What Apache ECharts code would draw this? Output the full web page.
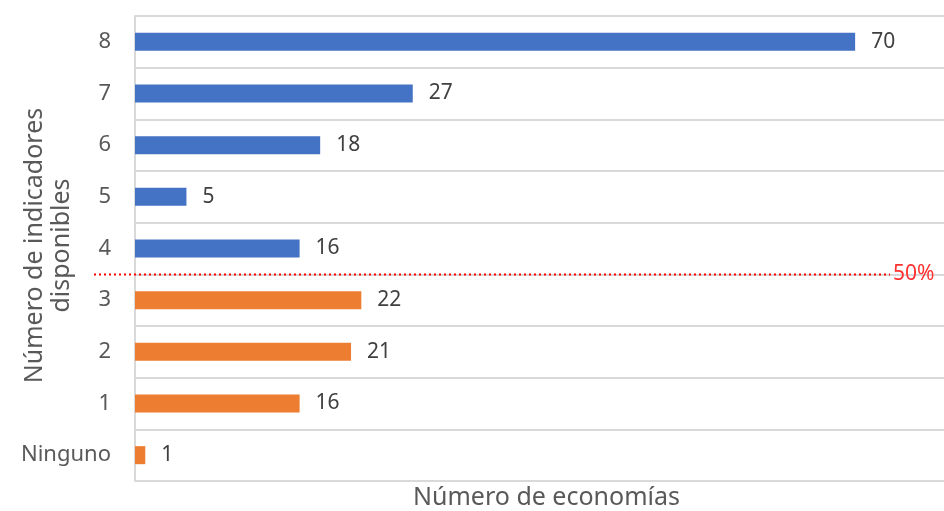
<!DOCTYPE html>
<html><head><meta charset="utf-8">
<script src="https://cdn.jsdelivr.net/npm/echarts@6/dist/echarts.min.js"></script>
<style>html,body{margin:0;padding:0;background:#fff}#c{width:944px;height:511px}</style>
</head><body><div id="c"></div>
<script>
const categories = ['Ninguno','1','2','3','4','5','6','7','8'];
const values = [1,16,21,22,16,5,18,27,70];
const colorGroups = ['o','o','o','o','b','b','b','b','b'];
const thresholdLabel = '50%';
const xTitle = 'Número de economías';
const yTitle = 'Número de indicadores\ndisponibles';
const xMax = 80;

const BLUE = '#4472C4', ORANGE = '#ED7D31';
const FONT = 'Noto Sans';
const chart = echarts.init(document.getElementById('c'));
chart.setOption({
  animation: false,
  textStyle: {fontFamily: FONT},
  grid: {left: 135, right: -14, top: 16, bottom: 30, containLabel: false, outerBoundsMode: 'none'},
  xAxis: {
    type: 'value', min: 0, max: xMax,
    axisLabel: {show: false}, axisLine: {show: false}, axisTick: {show: false},
    splitLine: {show: false}
  },
  yAxis: {
    type: 'category', data: categories,
    axisLine: {show: true, lineStyle: {color: '#d9d9d9', width: 2}},
    axisTick: {show: false},
    axisLabel: {fontSize: 22, color: '#595959', margin: 24, fontFamily: FONT},
    splitLine: {show: true, lineStyle: {color: '#d9d9d9', width: 2}}
  },
  series: [{
    type: 'bar', barWidth: 18,
    data: values.map((v, i) => ({value: v, itemStyle: {color: colorGroups[i] === 'o' ? ORANGE : BLUE}})),
    label: {show: true, position: 'right', distance: 16, fontSize: 21, color: '#404040', fontFamily: FONT}
  }]
});
const y3 = chart.convertToPixel({yAxisIndex: 0}, '3');
const y4 = chart.convertToPixel({yAxisIndex: 0}, '4');
const yb = Math.round((y3 + y4) / 2) + 0.5;
const xMid = (chart.convertToPixel({xAxisIndex: 0}, 0) + chart.convertToPixel({xAxisIndex: 0}, xMax)) / 2;
const yMid = (chart.convertToPixel({yAxisIndex: 0}, categories[0]) + chart.convertToPixel({yAxisIndex: 0}, categories[categories.length - 1])) / 2;
chart.setOption({
  graphic: [
    {type: 'line', shape: {x1: 94, y1: yb, x2: 890, y2: yb},
     style: {stroke: '#FF0000', lineWidth: 2, lineDash: [2, 3]}, z: 100},
    {type: 'text', x: 893, y: yb, style: {text: thresholdLabel, fill: '#FF3030', fontSize: 21,
     fontFamily: FONT, verticalAlign: 'middle'}, z: 100},
    {type: 'text', x: xMid, y: 498, style: {text: xTitle, fill: '#595959', fontSize: 25,
     fontFamily: FONT, align: 'center', verticalAlign: 'middle'}},
    {type: 'text', x: 48, y: yMid - 3, rotation: Math.PI / 2, style: {text: yTitle, fill: '#595959', fontSize: 25,
     lineHeight: 27, fontFamily: FONT, align: 'center', verticalAlign: 'middle'}}
  ]
});
</script></body></html>
